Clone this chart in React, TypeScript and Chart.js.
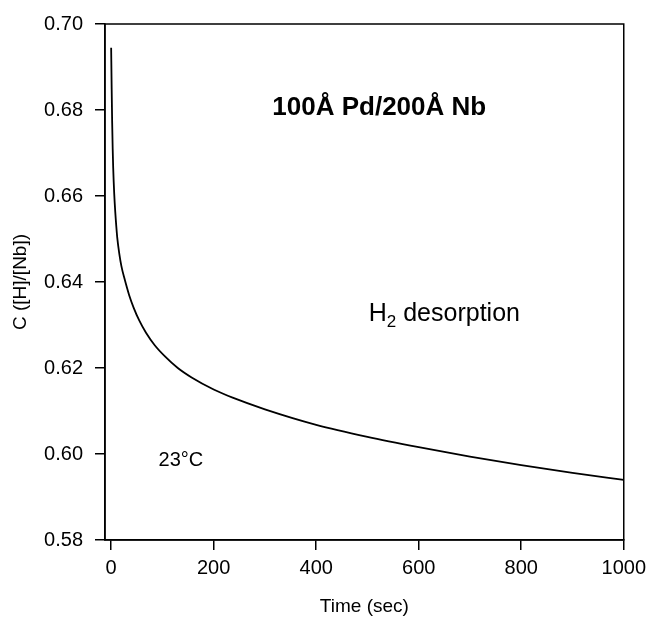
import React, { useEffect, useRef } from "react";
import { Chart, registerables } from "chart.js";

Chart.register(...registerables);

// Data
const timeSec = [0, 1, 2, 3, 4, 6, 8, 10, 12, 16, 20, 26, 35, 44, 55, 68, 85, 105, 130, 157, 200, 237, 300, 400, 500, 600, 700, 800, 900, 1000];
const concentration = [0.6945, 0.685, 0.677, 0.671, 0.6665, 0.6605, 0.6563, 0.653, 0.6502, 0.6465, 0.6437, 0.6408, 0.637, 0.634, 0.631, 0.6282, 0.6253, 0.6227, 0.62, 0.6178, 0.615, 0.6131, 0.6104, 0.6068, 0.604, 0.6016, 0.5994, 0.5974, 0.5956, 0.594];

const xTickValues = [0, 200, 400, 600, 800, 1000];
const yTickValues = [0.58, 0.6, 0.62, 0.64, 0.66, 0.68, 0.7];

const titleText = "100Å Pd/200Å Nb";
const tempText = "23°C";
const xAxisTitle = "Time (sec)";
const yAxisTitle = "C ([H]/[Nb])";

const FONT = "'Liberation Sans', Arial, Helvetica, sans-serif";

export default function App() {
  const canvasRef = useRef<HTMLCanvasElement | null>(null);

  useEffect(() => {
    const canvas = canvasRef.current;
    if (!canvas) return;

    const framePlugin = {
      id: "frame",
      afterDatasetsDraw(chart: any) {
        const { ctx, chartArea } = chart;
        ctx.save();
        ctx.strokeStyle = "#000";
        ctx.lineWidth = 1.5;
        ctx.strokeRect(chartArea.left, chartArea.top, chartArea.right - chartArea.left, chartArea.bottom - chartArea.top);
        ctx.restore();
      },
    };

    const textPlugin = {
      id: "annotText",
      afterDraw(chart: any) {
        const { ctx, scales } = chart;
        const xs = scales.x;
        const ys = scales.y;
        ctx.save();
        ctx.fillStyle = "#000";
        ctx.textBaseline = "middle";
        ctx.textAlign = "center";
        // Title
        ctx.font = `bold 26px ${FONT}`;
        ctx.fillText(titleText, xs.getPixelForValue(523), ys.getPixelForValue(0.6805));
        // Temperature
        ctx.font = `20px ${FONT}`;
        ctx.fillText(tempText, xs.getPixelForValue(136), ys.getPixelForValue(0.5985));
        // H2 desorption with subscript
        const cx = xs.getPixelForValue(650);
        const cy = ys.getPixelForValue(0.6326);
        ctx.textAlign = "left";
        ctx.font = `25px ${FONT}`;
        const wH = ctx.measureText("H").width;
        const wRest = ctx.measureText(" desorption").width;
        ctx.font = `17px ${FONT}`;
        const w2 = ctx.measureText("2").width;
        let x0 = cx - (wH + w2 + wRest) / 2;
        ctx.font = `25px ${FONT}`;
        ctx.fillText("H", x0, cy);
        x0 += wH;
        ctx.font = `17px ${FONT}`;
        ctx.fillText("2", x0, cy + 8);
        x0 += w2;
        ctx.font = `25px ${FONT}`;
        ctx.fillText(" desorption", x0, cy);
        ctx.restore();
      },
    };

    const chart = new Chart(canvas, {
      type: "line",
      data: {
        datasets: [
          {
            data: timeSec.map((t, i) => ({ x: t, y: concentration[i] })),
            borderColor: "#000",
            borderWidth: 1.8,
            pointRadius: 0,
            fill: false,
            cubicInterpolationMode: "monotone",
          },
        ],
      },
      options: {
        responsive: false,
        animation: false,
        devicePixelRatio: 1,
        layout: { padding: { left: 0, right: 20, top: 22, bottom: 0 } },
        plugins: { legend: { display: false }, tooltip: { enabled: false }, title: { display: false } },
        scales: {
          x: {
            type: "linear",
            position: "bottom",
            min: -12,
            max: 1000,
            afterBuildTicks: (s: any) => {
              s.ticks = xTickValues.map((v) => ({ value: v }));
            },
            afterFit: (s: any) => {
              s.height = 78;
            },
            grid: { display: true, drawOnChartArea: false, drawTicks: true, tickLength: 10, color: "#000", lineWidth: 1.5 },
            border: { display: true, color: "#000", width: 1.5 },
            ticks: {
              color: "#000",
              font: { family: FONT, size: 20 },
              padding: 6,
              maxRotation: 0,
              autoSkip: false,
              callback: (v: any) => String(v),
            },
            title: {
              display: true,
              text: xAxisTitle,
              color: "#000",
              font: { family: FONT, size: 19 },
              padding: { top: 0, bottom: 0 },
            },
          },
          y: {
            type: "linear",
            position: "left",
            min: 0.58,
            max: 0.7,
            afterBuildTicks: (s: any) => {
              s.ticks = yTickValues.map((v) => ({ value: v }));
            },
            afterFit: (s: any) => {
              s.width = 105;
            },
            grid: { display: true, drawOnChartArea: false, drawTicks: true, tickLength: 10, color: "#000", lineWidth: 1.5 },
            border: { display: true, color: "#000", width: 1.5 },
            ticks: {
              color: "#000",
              font: { family: FONT, size: 20 },
              padding: 12,
              autoSkip: false,
              callback: (v: any) => Number(v).toFixed(2),
            },
            title: {
              display: true,
              text: yAxisTitle,
              color: "#000",
              font: { family: FONT, size: 19 },
              padding: { top: 9, bottom: 0 },
            },
          },
        },
      } as any,
      plugins: [framePlugin, textPlugin],
    });

    return () => chart.destroy();
  }, []);

  return (
    <div style={{ position: "absolute", left: 0, top: 0, width: 652, height: 618, background: "#fff" }}>
      <canvas ref={canvasRef} width={652} height={618} style={{ display: "block" }} />
    </div>
  );
}
